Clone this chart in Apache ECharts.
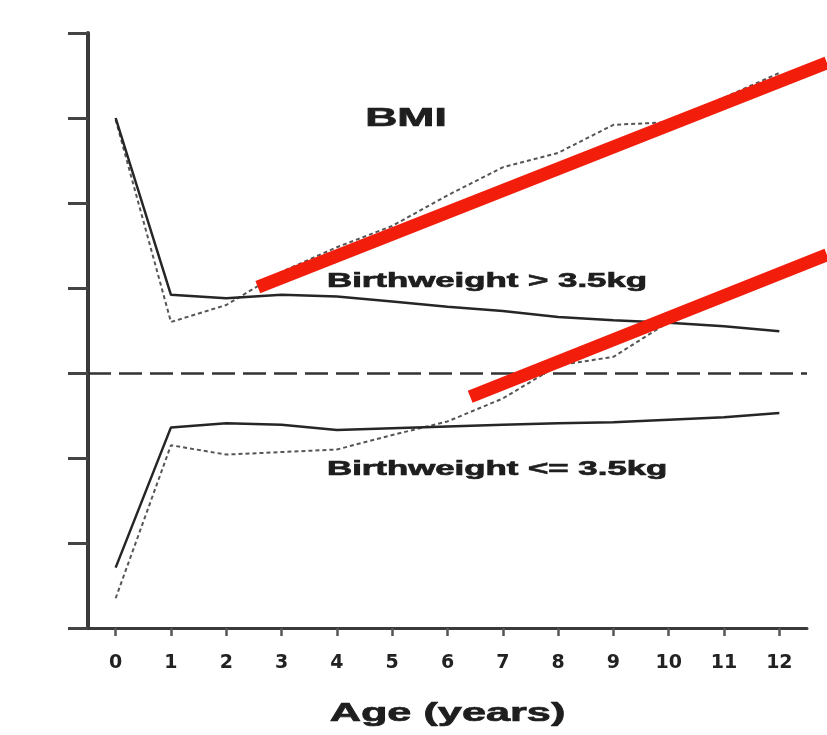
<!DOCTYPE html>
<html>
<head>
<meta charset="utf-8">
<script src="https://cdn.jsdelivr.net/npm/echarts@6/dist/echarts.min.js"></script>
<style>
html,body{margin:0;padding:0;background:#fff;}
#chart{width:827px;height:735px;}
</style>
</head>
<body>
<div id="chart"></div>
<script>
// Categories (age in years) = x tick labels
const ages = ['0','1','2','3','4','5','6','7','8','9','10','11','12'];
// Birthweight > 3.5kg group
const highSolid  = [3.00, 0.92, 0.88, 0.92, 0.90, 0.84, 0.78, 0.73, 0.66, 0.62, 0.59, 0.55, 0.49];
const highDotted = [2.98, 0.60, 0.80, 1.19, 1.48, 1.73, 2.09, 2.42, 2.59, 2.92, 2.95, 3.24, 3.53];
// Birthweight <= 3.5kg group
const lowSolid   = [-2.29, -0.64, -0.59, -0.61, -0.67, -0.65, -0.63, -0.61, -0.59, -0.58, -0.55, -0.52, -0.47];
const lowDotted  = [-2.65, -0.85, -0.96, -0.93, -0.90, -0.73, -0.57, -0.30, 0.09, 0.19, 0.60, 0.85, 1.11];
// Red annotation strokes (age, value)
const redUpper = [[2.57, 1.01], [12.86, 3.65]];
const redLower = [[6.41, -0.28], [12.86, 1.39]];

const chart = echarts.init(document.getElementById('chart'), null, {renderer: 'canvas'});
const solidStyle = {color: '#262626', width: 2.5, type: 'solid'};
const dotStyle = {color: '#555555', width: 2, type: [4, 3]};
const textFont = {fontFamily: 'Liberation Sans', fontWeight: 'bold', fill: '#1e1e1e', stroke: '#1e1e1e', lineWidth: 0.7};

// Overlay grid reaching the right edge of the page for the red annotation strokes,
// sharing the same scale as the main grid (one year = one category band).
const mainLeft = 88, mainRight = 20, pageW = 827;
const bandW = (pageW - mainLeft - mainRight) / ages.length;
const overlayMax = -0.5 + (pageW - mainLeft) / bandW;

chart.setOption({
  animation: false,
  backgroundColor: '#ffffff',
  grid: [
    {left: mainLeft, right: mainRight, top: 33, bottom: 107, containLabel: false},
    {left: mainLeft, right: 0, top: 33, bottom: 107, containLabel: false}
  ],
  xAxis: [{
    type: 'category',
    gridIndex: 0,
    data: ages,
    boundaryGap: true,
    axisLine: {onZero: false, lineStyle: {color: '#3a3a3a', width: 3}},
    axisTick: {show: true, alignWithLabel: true, length: 8, lineStyle: {color: '#555', width: 2.5}},
    axisLabel: {color: '#222', fontFamily: 'DejaVu Sans', fontWeight: 'bold', fontSize: 19, margin: 26},
    splitLine: {show: false}
  }, {
    type: 'value', gridIndex: 1, min: -0.5, max: overlayMax, show: false
  }],
  yAxis: [{
    type: 'value', gridIndex: 0, min: -3, max: 4, interval: 1,
    axisLine: {show: true, onZero: false, lineStyle: {color: '#3a3a3a', width: 4}},
    axisTick: {show: true, length: 20, lineStyle: {color: '#444', width: 3}},
    axisLabel: {show: false},
    splitLine: {show: false}
  }, {
    type: 'value', gridIndex: 1, min: -3, max: 4, interval: 1, show: false
  }],
  series: [
    {type: 'line', data: highSolid, symbol: 'none', lineStyle: solidStyle, z: 3,
     markLine: {silent: true, symbol: ['none', 'none'], label: {show: false},
       lineStyle: {color: '#333', width: 2.5, type: [23, 8]}, data: [{yAxis: 0}]}},
    {type: 'line', data: highDotted, symbol: 'none', lineStyle: dotStyle, z: 2},
    {type: 'line', data: lowSolid, symbol: 'none', lineStyle: solidStyle, z: 3},
    {type: 'line', data: lowDotted, symbol: 'none', lineStyle: dotStyle, z: 2},
    {type: 'line', xAxisIndex: 1, yAxisIndex: 1, data: redUpper, symbol: 'none', clip: false, z: 10,
     lineStyle: {color: '#f21d0b', width: 13, cap: 'butt'}},
    {type: 'line', xAxisIndex: 1, yAxisIndex: 1, data: redLower, symbol: 'none', clip: false, z: 10,
     lineStyle: {color: '#f21d0b', width: 13, cap: 'butt'}}
  ],
  graphic: [
    {type: 'text', x: 406, y: 119, scaleX: 1.78, z: 5,
     style: Object.assign({text: 'BMI', fontSize: 25, align: 'center', verticalAlign: 'middle'}, textFont)},
    {type: 'text', x: 327, y: 281, scaleX: 1.74, z: 5,
     style: Object.assign({text: 'Birthweight > 3.5kg', fontSize: 20, align: 'left', verticalAlign: 'middle'}, textFont)},
    {type: 'text', x: 327, y: 469, scaleX: 1.74, z: 5,
     style: Object.assign({text: 'Birthweight <= 3.5kg', fontSize: 20, align: 'left', verticalAlign: 'middle'}, textFont)},
    {type: 'text', x: 447.5, y: 714, scaleX: 1.73, z: 5,
     style: Object.assign({text: 'Age (years)', fontSize: 25, align: 'center', verticalAlign: 'middle'}, textFont)}
  ]
});
</script>
</body>
</html>
